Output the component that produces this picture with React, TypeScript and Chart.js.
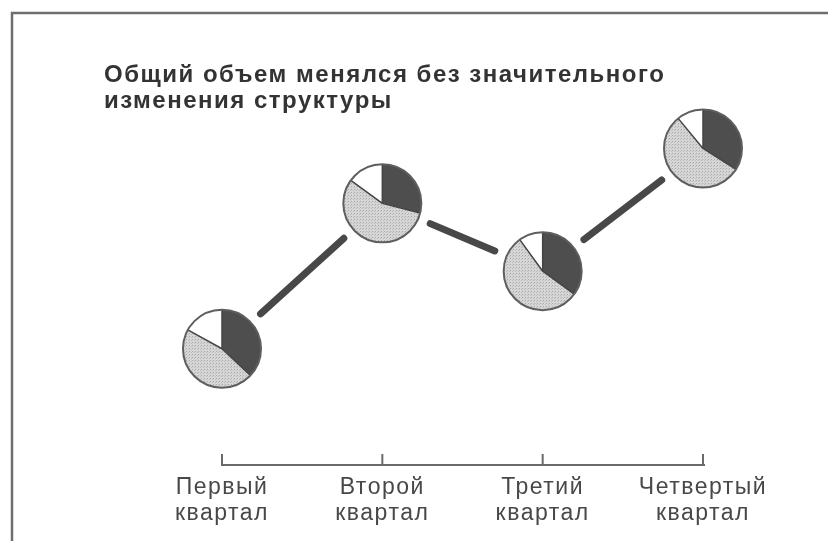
import React, { useEffect, useRef } from "react";
import { Chart, registerables } from "chart.js";

Chart.register(...registerables);

const categories: string[][] = [
  ["Первый", "квартал"],
  ["Второй", "квартал"],
  ["Третий", "квартал"],
  ["Четвертый", "квартал"],
];
const totalVolume: number[] = [36, 81, 60, 98];
const shareDark: number[] = [37, 29, 35, 34];
const shareDotted: number[] = [46, 56, 55, 55];
const shareWhite: number[] = [17, 15, 10, 11];
const titleLines: string[] = [
  "Общий объем менялся без значительного",
  "изменения структуры",
];

function makeDotPattern(ctx: CanvasRenderingContext2D): CanvasPattern | string {
  const c = document.createElement("canvas");
  c.width = 3;
  c.height = 3;
  const p = c.getContext("2d");
  if (!p) return "#cccccc";
  p.fillStyle = "#d6d6d6";
  p.fillRect(0, 0, 3, 3);
  p.fillStyle = "#a8a8a8";
  p.fillRect(0, 0, 1, 1);
  p.fillStyle = "#bdbdbd";
  p.fillRect(2, 1, 1, 1);
  return ctx.createPattern(c, "repeat") || "#cccccc";
}

const framePlugin = {
  id: "frame",
  beforeDraw(chart: any) {
    const ctx = chart.ctx as any;
    ctx.letterSpacing = "1.5px";
    ctx.save();
    ctx.fillStyle = "#ffffff";
    ctx.fillRect(0, 0, chart.width, chart.height);
    ctx.strokeStyle = "#6e6e6e";
    ctx.lineWidth = 2.5;
    ctx.beginPath();
    ctx.moveTo(12, chart.height + 5);
    ctx.lineTo(12, 13);
    ctx.lineTo(chart.width + 5, 13);
    ctx.stroke();
    ctx.restore();
  },
};

const axisPlugin = {
  id: "axisTicks",
  afterDraw(chart: any) {
    const ctx = chart.ctx as CanvasRenderingContext2D;
    const xs = chart.scales.x;
    const y0 = xs.top;
    ctx.save();
    ctx.strokeStyle = "#6a6a6a";
    ctx.lineWidth = 2;
    ctx.beginPath();
    ctx.moveTo(xs.getPixelForTick(0), y0);
    ctx.lineTo(xs.getPixelForTick(categories.length - 1) + 2, y0);
    for (let i = 0; i < categories.length; i++) {
      const px = xs.getPixelForTick(i);
      ctx.moveTo(px, y0 + 1);
      ctx.lineTo(px, y0 - 11);
    }
    ctx.stroke();
    ctx.restore();
  },
};

const piesPlugin = {
  id: "pies",
  afterDatasetsDraw(chart: any) {
    const ctx = chart.ctx as CanvasRenderingContext2D;
    const meta = chart.getDatasetMeta(0);
    const pts = meta.data.map((p: any) => ({ x: p.x, y: p.y }));
    const R = 39;
    const gap = 52;
    ctx.save();
    ctx.strokeStyle = "#484848";
    ctx.lineWidth = 7;
    ctx.lineCap = "round";
    for (let i = 0; i < pts.length - 1; i++) {
      const a = pts[i];
      const b = pts[i + 1];
      const dx = b.x - a.x;
      const dy = b.y - a.y;
      const len = Math.hypot(dx, dy);
      const ux = dx / len;
      const uy = dy / len;
      ctx.beginPath();
      ctx.moveTo(a.x + ux * gap, a.y + uy * gap);
      ctx.lineTo(b.x - ux * gap, b.y - uy * gap);
      ctx.stroke();
    }
    const dotted = makeDotPattern(ctx);
    for (let i = 0; i < pts.length; i++) {
      const { x, y } = pts[i];
      const vals = [shareDark[i], shareDotted[i], shareWhite[i]];
      const fills: (string | CanvasPattern)[] = ["#4e4e4e", dotted, "#ffffff"];
      const total = vals.reduce((s, v) => s + v, 0);
      let ang = -Math.PI / 2;
      const bounds: number[] = [ang];
      for (let k = 0; k < vals.length; k++) {
        const sweep = (vals[k] / total) * Math.PI * 2;
        ctx.beginPath();
        ctx.moveTo(x, y);
        ctx.arc(x, y, R, ang, ang + sweep);
        ctx.closePath();
        ctx.fillStyle = fills[k] as any;
        ctx.fill();
        ang += sweep;
        bounds.push(ang);
      }
      ctx.strokeStyle = "#444444";
      ctx.lineWidth = 1.5;
      ctx.lineCap = "butt";
      ctx.beginPath();
      for (let k = 0; k < vals.length; k++) {
        ctx.moveTo(x, y);
        ctx.lineTo(x + R * Math.cos(bounds[k]), y + R * Math.sin(bounds[k]));
      }
      ctx.stroke();
      ctx.strokeStyle = "#5e5e5e";
      ctx.lineWidth = 2;
      ctx.beginPath();
      ctx.arc(x, y, R, 0, Math.PI * 2);
      ctx.stroke();
      ctx.lineCap = "round";
    }
    ctx.restore();
  },
};

export default function App() {
  const ref = useRef<HTMLCanvasElement | null>(null);
  useEffect(() => {
    if (!ref.current) return;
    const chart = new Chart(ref.current, {
      type: "line",
      data: {
        labels: categories,
        datasets: [
          {
            data: totalVolume,
            showLine: false,
            pointRadius: 0,
            pointHoverRadius: 0,
          },
        ],
      },
      options: {
        responsive: false,
        animation: false,
        devicePixelRatio: 1,
        layout: { padding: { left: 104, right: 125, top: 0, bottom: 4 } },
        plugins: {
          legend: { display: false },
          tooltip: { enabled: false },
          title: {
            display: true,
            text: titleLines,
            align: "start",
            color: "#333333",
            font: { family: "'Liberation Sans', Arial, sans-serif", size: 24, weight: "bold", lineHeight: 1.083 },
            padding: { top: 62, bottom: 28 },
          },
        },
        scales: {
          x: {
            type: "category",
            offset: false,
            grid: { display: false, drawTicks: false },
            border: { display: false },
            ticks: {
              color: "#484848",
              padding: 10,
              maxRotation: 0,
              autoSkip: false,
              font: { family: "'Liberation Sans', Arial, sans-serif", size: 23, lineHeight: 1.13 },
            },
          },
          y: {
            min: 0,
            max: 100,
            grid: { display: false, drawTicks: false },
            border: { display: false },
            ticks: { display: false },
            afterFit: (s: any) => {
              s.width = 118;
            },
          },
        },
      },
      plugins: [framePlugin, axisPlugin, piesPlugin],
    });
    return () => chart.destroy();
  }, []);
  return (
    <div style={{ position: "absolute", left: 0, top: 0, width: 828, height: 541 }}>
      <canvas ref={ref} width={828} height={541} style={{ display: "block" }} />
    </div>
  );
}
